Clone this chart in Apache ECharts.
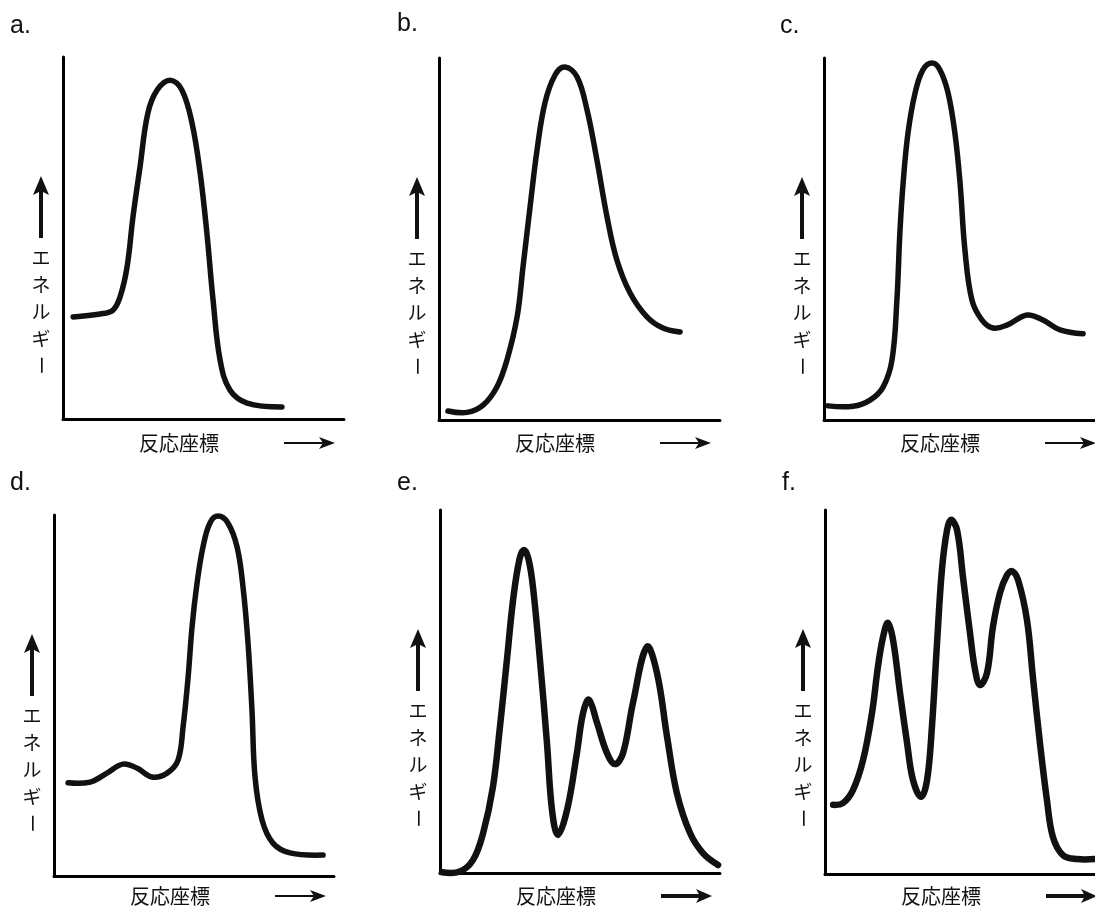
<!DOCTYPE html>
<html>
<head>
<meta charset="utf-8">
<script src="https://cdn.jsdelivr.net/npm/echarts@6/dist/echarts.min.js"></script>
<style>
  html, body { margin: 0; padding: 0; background: #fff; }
  #main { width: 1095px; height: 906px; }
</style>
</head>
<body>
<div id="main"></div>
<script>
// panel titles and axis texts
const panelNames = ["a.", "b.", "c.", "d.", "e.", "f."];
const yAxisChars = ["エ", "ネ", "ル", "ギ", "ー"];
const xAxisText = "反応座標";

// curves: [reaction coordinate, energy], both 0..100
const curveA = [
  [3.6, 28.2], [13.2, 29.0], [17.8, 30.1], [20.3, 33.7], [22.8, 42.0], [24.9, 55.8],
  [27.4, 69.6], [30.2, 84.5], [33.5, 90.9], [38.1, 93.6], [42.3, 90.9], [45.9, 81.8],
  [48.8, 68.0], [51.2, 51.4], [53.4, 32.9], [55.9, 16.3], [59.4, 8.0], [65.5, 4.4], [77.9, 3.3],
];
const curveB = [
  [3.2, 2.5], [10.0, 2.1], [15.7, 4.1], [20.6, 9.1], [24.2, 16.6], [27.8, 28.5],
  [29.9, 42.3], [32.4, 58.8], [34.9, 74.6], [37.7, 87.6], [41.3, 95.3], [44.8, 97.5],
  [49.1, 94.8], [52.7, 85.6], [56.2, 71.8], [59.8, 56.1], [63.3, 44.2], [68.0, 35.1],
  [74.0, 28.5], [79.7, 25.4], [85.8, 24.3],
];
const curveC = [
  [1.5, 3.9], [10.7, 3.8], [17.0, 5.5], [21.8, 9.1], [25.1, 16.6], [26.9, 33.1],
  [28.0, 51.7], [29.2, 65.5], [31.0, 79.3], [33.6, 90.3], [36.5, 96.7], [39.9, 98.6],
  [42.8, 96.7], [45.8, 90.3], [48.3, 79.3], [50.2, 65.5], [52.0, 47.0], [54.6, 33.1],
  [58.3, 27.6], [62.4, 25.4], [67.5, 26.2], [74.9, 29.0], [80.8, 27.6], [87.1, 24.9], [95.6, 23.8],
];
const curveD = [
  [5.0, 25.8], [12.9, 26.0], [18.9, 28.5], [24.6, 31.0], [29.6, 29.9], [35.0, 27.4],
  [40.4, 28.5], [44.3, 32.1], [46.1, 41.3], [47.9, 55.1], [49.3, 69.0], [51.1, 81.2],
  [53.2, 91.1], [55.7, 97.8], [58.6, 99.7], [62.1, 97.8], [65.4, 91.1], [67.5, 80.1],
  [69.3, 64.5], [70.7, 46.0], [71.8, 27.4], [74.3, 15.5], [78.2, 9.1], [84.3, 6.4], [96.1, 5.8],
];
const curveE = [
  [0.7, 0.2], [7.1, 0.4], [11.8, 3.6], [15.4, 11.0], [18.9, 23.7], [21.4, 40.2],
  [23.9, 58.7], [26.1, 75.2], [28.4, 86.5], [30.0, 89.0], [31.6, 86.5], [33.2, 78.8],
  [35.7, 58.7], [38.2, 35.8], [40.0, 17.4], [42.1, 10.5], [45.4, 17.4], [48.9, 33.1],
  [51.1, 44.1], [53.2, 47.7], [56.1, 41.3], [59.6, 33.1], [62.5, 30.0], [65.4, 33.1],
  [68.9, 46.8], [73.9, 62.3], [77.5, 55.1], [81.1, 37.5], [84.6, 22.0], [89.3, 11.0],
  [93.9, 5.5], [99.3, 2.2],
];
const curveF = [
  [3.0, 19.0], [6.7, 19.5], [10.4, 23.1], [14.1, 31.3], [17.4, 44.2], [19.6, 56.9],
  [21.5, 65.1], [23.3, 69.0], [25.2, 64.3], [27.8, 49.7], [30.4, 36.0], [32.6, 25.8],
  [35.6, 21.2], [37.8, 25.8], [39.6, 40.4], [41.5, 63.5], [43.3, 83.5], [45.2, 94.5],
  [46.7, 97.3], [48.9, 94.5], [51.1, 81.6], [53.7, 66.2], [55.6, 56.0], [57.4, 51.9],
  [60.0, 55.2], [62.2, 67.9], [64.8, 77.2], [67.4, 82.1], [69.3, 83.2], [71.5, 80.8],
  [74.8, 69.8], [77.0, 54.1], [79.6, 36.0], [82.2, 20.3], [84.4, 10.2], [88.1, 5.2],
  [93.3, 4.1], [100, 4.1],
];
const curves = [curveA, curveB, curveC, curveD, curveE, curveF];

// plot boxes in pixels
const boxes = [
  { left: 63, top: 57, width: 281, height: 362, labelX: 10, labelY: 14, xLabelY: 443, thick: false },
  { left: 439, top: 58, width: 281, height: 362, labelX: 397, labelY: 12, xLabelY: 443, thick: false },
  { left: 824, top: 58, width: 271, height: 362, labelX: 780, labelY: 14, xLabelY: 443, thick: false },
  { left: 54, top: 515, width: 280, height: 361, labelX: 10, labelY: 471, xLabelY: 896, thick: false },
  { left: 440, top: 510, width: 280, height: 363, labelX: 397, labelY: 471, xLabelY: 896, thick: true },
  { left: 825, top: 510, width: 270, height: 364, labelX: 782, labelY: 471, xLabelY: 896, thick: true },
];

const ink = "#111";
const latin = "'Liberation Sans', Arial, sans-serif";
const cjk = "'Noto Sans CJK JP', sans-serif";

const grids = [];
const xAxes = [];
const yAxes = [];
const series = [];
const graphics = [];

boxes.forEach((b, i) => {
  grids.push({ left: b.left, top: b.top, width: b.width, height: b.height });
  const axisBase = {
    gridIndex: i,
    type: "value",
    min: 0,
    max: 100,
    axisLine: { show: true, onZero: false, lineStyle: { color: "#000", width: 3 } },
    axisTick: { show: false },
    axisLabel: { show: false },
    splitLine: { show: false },
  };
  xAxes.push({ ...axisBase });
  yAxes.push({ ...axisBase });

  // one smooth path per panel, points placed through the panel's axes
  const pts = curves[i];
  series.push({
    type: "custom",
    xAxisIndex: i,
    yAxisIndex: i,
    data: pts,
    encode: { x: 0, y: 1 },
    renderItem: function (params, api) {
      if (params.dataIndex !== 0) return null;
      return {
        type: "polyline",
        shape: { points: pts.map((p) => api.coord(p)), smooth: 0.38 },
        style: {
          stroke: ink,
          fill: "none",
          lineWidth: b.thick ? 6.5 : 5.5,
          lineCap: "round",
          lineJoin: "round",
        },
      };
    },
  });

  const L = b.left;
  const T = b.top;

  // panel letter
  graphics.push({
    type: "text",
    x: b.labelX,
    y: b.labelY,
    style: { text: panelNames[i], font: `25px ${latin}`, fill: ink },
  });

  // vertical energy arrow
  const ax = L - 22;
  graphics.push({
    type: "line",
    shape: { x1: ax, y1: T + 132, x2: ax, y2: T + 181 },
    style: { stroke: ink, lineWidth: 4 },
  });
  graphics.push({
    type: "polygon",
    shape: { points: [[ax, T + 119], [ax - 8, T + 138], [ax, T + 134], [ax + 8, T + 138]] },
    style: { fill: ink },
  });

  // vertical text, one char per line; the long mark turns upright
  yAxisChars.forEach((ch, k) => {
    const cy = T + 201 + k * 26.8;
    graphics.push({
      type: "text",
      x: ax,
      y: cy,
      rotation: ch === "ー" ? -Math.PI / 2 : 0,
      style: {
        text: ch,
        font: `19px ${cjk}`,
        fill: ink,
        textAlign: "center",
        textVerticalAlign: "middle",
      },
    });
  });

  // x label and arrow
  const ay = b.xLabelY;
  graphics.push({
    type: "text",
    x: L + 116,
    y: ay,
    style: {
      text: xAxisText,
      font: `20px ${cjk}`,
      fill: ink,
      textAlign: "center",
      textVerticalAlign: "middle",
    },
  });
  graphics.push({
    type: "line",
    shape: { x1: L + 221, y1: ay, x2: L + 262, y2: ay },
    style: { stroke: ink, lineWidth: b.thick ? 4 : 2 },
  });
  graphics.push({
    type: "polygon",
    shape: {
      points: [[L + 272, ay], [L + 256, ay - (b.thick ? 7 : 6)], [L + 260, ay], [L + 256, ay + (b.thick ? 7 : 6)]],
    },
    style: { fill: ink },
  });
});

const myChart = echarts.init(document.getElementById("main"), null, { renderer: "canvas" });

myChart.setOption({
  animation: false,
  backgroundColor: "#fff",
  grid: grids,
  xAxis: xAxes,
  yAxis: yAxes,
  series: series,
  graphic: graphics,
});
</script>
</body>
</html>
